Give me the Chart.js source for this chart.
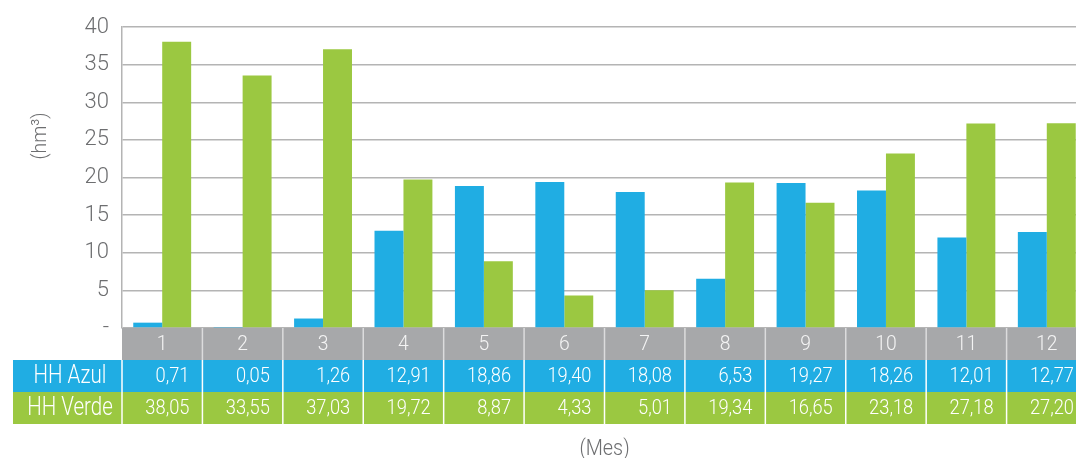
<!DOCTYPE html>
<html>
<head>
<meta charset="utf-8">
<script src="https://cdn.jsdelivr.net/npm/chart.js@4.4.1/dist/chart.umd.min.js"></script>
<style>
  html, body { margin: 0; padding: 0; background: #ffffff; overflow: hidden; }
  #wrap { position: relative; width: 1087px; height: 458px; }
</style>
</head>
<body>
<div id="wrap"><canvas id="c" width="1087" height="458"></canvas></div>
<script>
// Meses y volúmenes de huella hídrica (hm³)
const meses = ['1', '2', '3', '4', '5', '6', '7', '8', '9', '10', '11', '12'];
const hhAzul = [0.71, 0.05, 1.26, 12.91, 18.86, 19.40, 18.08, 6.53, 19.27, 18.26, 12.01, 12.77];
const hhVerde = [38.05, 33.55, 37.03, 19.72, 8.87, 4.33, 5.01, 19.34, 16.65, 23.18, 27.18, 27.20];
const nombresSeries = ['HH Azul', 'HH Verde'];
const ejeYMin = 0;
const ejeYMax = 40;
const ejeYPaso = 5;
const tituloY = '(hm³)';
const tituloX = '(Mes)';

const AZUL = '#20ade3';
const VERDE = '#9bc841';
const GRIS_CAB = '#a7a8aa';
const GRIS_TEXTO = '#6d6e70';
const FUENTE = "'Roboto', 'Liberation Sans', sans-serif";

const fmt = v => v.toFixed(2).replace('.', ',');

// texto estrechado horizontalmente (tipografía condensada)
function textoEstrecho(ctx, txt, x, y, align, sx) {
  ctx.save();
  ctx.translate(x, y);
  ctx.scale(sx, 1);
  ctx.textAlign = align;
  ctx.fillText(txt, 0, 0);
  ctx.restore();
}

// Tabla de datos bajo el eje X, alineada con las categorías
const tablaDatos = {
  id: 'tablaDatos',
  afterDraw(chart) {
    const { ctx, chartArea } = chart;
    const x = chart.scales.x;
    const n = meses.length;
    const colW = (x.right - x.left) / n;
    const filaH = 32;
    const yCab = chartArea.bottom;
    const yAzul = yCab + filaH;
    const yVerde = yAzul + filaH;
    const labelLeft = chartArea.left - 109;

    ctx.save();
    // fondos
    ctx.fillStyle = GRIS_CAB;
    ctx.fillRect(x.left, yCab, x.right - x.left, filaH);
    ctx.fillStyle = AZUL;
    ctx.fillRect(labelLeft, yAzul, x.right - labelLeft, filaH);
    ctx.fillStyle = VERDE;
    ctx.fillRect(labelLeft, yVerde, x.right - labelLeft, filaH);

    // separadores de columna
    ctx.lineWidth = 1.5;
    for (let k = 0; k <= n; k++) {
      const px = x.left + k * colW;
      if (k > 0) {
        ctx.strokeStyle = '#dcdcdd';
        ctx.beginPath(); ctx.moveTo(px, yCab); ctx.lineTo(px, yAzul); ctx.stroke();
      }
      ctx.strokeStyle = '#ffffff';
      ctx.beginPath(); ctx.moveTo(px, yAzul); ctx.lineTo(px, yVerde + filaH); ctx.stroke();
    }

    // textos
    ctx.textBaseline = 'middle';
    ctx.font = '300 21px ' + FUENTE;
    ctx.fillStyle = '#f4f4f4';
    meses.forEach((m, i) => {
      textoEstrecho(ctx, m, x.getPixelForValue(i), yCab + filaH / 2 + 1, 'center', 0.92);
    });
    ctx.fillStyle = '#ffffff';
    hhAzul.forEach((v, i) => {
      textoEstrecho(ctx, fmt(v), x.left + (i + 1) * colW - 13, yAzul + filaH / 2 + 1, 'right', 0.87);
    });
    hhVerde.forEach((v, i) => {
      textoEstrecho(ctx, fmt(v), x.left + (i + 1) * colW - 13, yVerde + filaH / 2 + 1, 'right', 0.87);
    });
    ctx.font = '300 25px ' + FUENTE;
    textoEstrecho(ctx, nombresSeries[0], labelLeft + 57, yAzul + filaH / 2 + 1, 'center', 0.82);
    textoEstrecho(ctx, nombresSeries[1], labelLeft + 57, yVerde + filaH / 2 + 1, 'center', 0.82);

    // títulos de ejes
    ctx.fillStyle = GRIS_TEXTO;
    ctx.font = '300 22px ' + FUENTE;
    textoEstrecho(ctx, tituloX, (x.left + x.right) / 2, yVerde + filaH + 25, 'center', 0.9);
    ctx.translate(chartArea.left - 81, chartArea.top + 109);
    ctx.rotate(-Math.PI / 2);
    ctx.font = '300 21px ' + FUENTE;
    textoEstrecho(ctx, tituloY, 0, 0, 'center', 0.92);
    ctx.restore();
  }
};

new Chart(document.getElementById('c'), {
  type: 'bar',
  data: {
    labels: meses,
    datasets: [
      { label: nombresSeries[0], data: hhAzul, backgroundColor: AZUL, borderWidth: 0 },
      { label: nombresSeries[1], data: hhVerde, backgroundColor: VERDE, borderWidth: 0 }
    ]
  },
  options: {
    responsive: false,
    animation: false,
    events: [],
    layout: { padding: { top: 27, bottom: 130, left: 0, right: 0 } },
    datasets: { bar: { categoryPercentage: 0.72, barPercentage: 1.0 } },
    plugins: { legend: { display: false }, tooltip: { enabled: false }, title: { display: false } },
    scales: {
      x: { display: false },
      y: {
        min: ejeYMin,
        max: ejeYMax,
        ticks: {
          stepSize: ejeYPaso,
          padding: 13,
          color: GRIS_TEXTO,
          font: { family: FUENTE, size: 22, weight: 300 },
          callback: v => (v === 0 ? '-' : v)
        },
        grid: { color: '#b4b4b4', lineWidth: 1.5, drawTicks: false },
        border: { display: true, color: '#b4b4b4', width: 1.5 },
        afterFit(s) { s.width = 122; s.paddingTop = 0; s.paddingBottom = 0; }
      }
    }
  },
  plugins: [tablaDatos]
});
</script>
</body>
</html>
